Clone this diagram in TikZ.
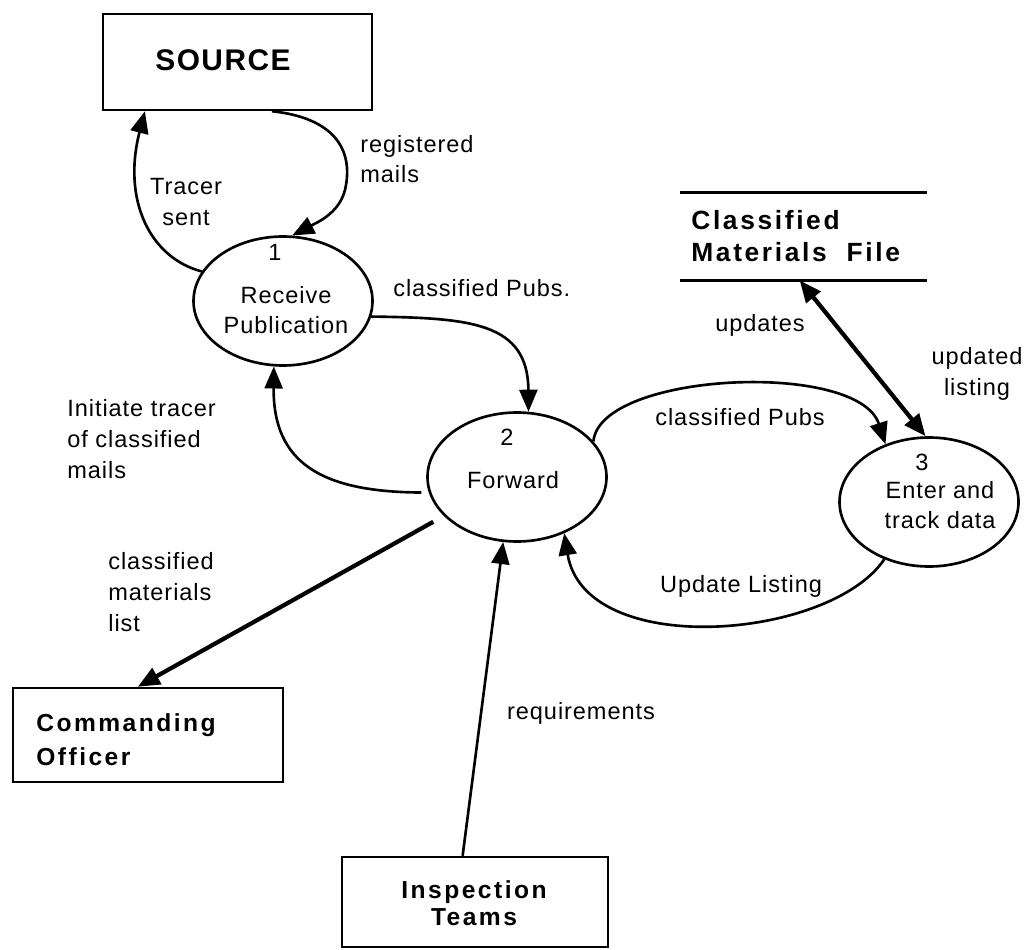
\documentclass[tikz,border=0pt]{standalone}
\usepackage{fontspec}
\setmainfont{Liberation Sans}
\newfontfamily\lblfont[LetterSpace=4]{Liberation Sans}
\newfontfamily\boxfont[LetterSpace=10]{Liberation Sans}
\newfontfamily\srcfont[LetterSpace=5]{Liberation Sans}
\usetikzlibrary{arrows.meta,shapes.geometric}

\tikzset{
    flow/.style={line width=1.5pt},
    heavy/.style={line width=2.4pt},
    proc/.style={ellipse, draw, line width=1.5pt, minimum width=35.8mm, minimum height=25.8mm, inner sep=0pt},
    ext/.style={draw, line width=1.4pt, inner sep=0pt},
    lbl/.style={font=\lblfont\fontsize{13.4}{17.5}\selectfont, inner sep=0pt},
    boxtxt/.style={font=\boxfont\bfseries\fontsize{14}{19}\selectfont, inner sep=0pt},
}

\begin{document}
\begin{tikzpicture}[x=0.2mm, y=-0.2mm, >={Triangle[length=4.4mm,width=3.6mm]}]
            %\draw[lightgray] (0, 0) grid[step=50] (1025, 950);
            \useasboundingbox (0, 0) rectangle (1025, 950);

            \node[ext, minimum width=53.8mm, minimum height=19.2mm] (src) at (237.5, 62) {};
            \node[boxtxt, font=\srcfont\bfseries\fontsize{17}{19}\selectfont] (srct) at (223, 60) {SOURCE};
            \node[ext, minimum width=54mm, minimum height=18.8mm] (com) at (148, 735) {};
            \node[boxtxt, align=left, anchor=west, font=\boxfont\bfseries\fontsize{14}{19.3}\selectfont] (comt) at (36, 740) {Commanding\\Officer};
            \node[ext, minimum width=53.2mm, minimum height=18mm] (insp) at (475, 902) {};
            \node[boxtxt, align=center, font=\boxfont\bfseries\fontsize{14}{15.3}\selectfont] (inspt) at (474, 903) {Inspection\\Teams};

            \node[minimum width=49.4mm, minimum height=17.4mm, inner sep=0pt] (cmf) at (803.5, 236.5) {};
            \draw[flow] (cmf.north west) -- (cmf.north east);
            \draw[flow] (cmf.south west) -- (cmf.south east);
            \node[boxtxt, align=left, anchor=west, font=\boxfont\bfseries\fontsize{15}{18.1}\selectfont] (cmft) at (691, 236) {Classified\\Materials\hspace{4mm}File};

            \node[proc] (p1) at (283, 301) {};
            \node[lbl] (n1) at (275, 252) {1};
            \node[lbl, align=center] (t1) at (286, 310) {Receive\\Publication};
            \node[proc] (p2) at (517, 477) {};
            \node[lbl] (n2) at (507, 437) {2};
            \node[lbl] (t2) at (513, 480) {Forward};
            \node[proc] (p3) at (929, 502) {};
            \node[lbl] (n3) at (922, 462) {3};
            \node[lbl, align=center] (t3) at (940, 505) {Enter and\\track data};

            \draw[flow, ->] (src.-55) .. controls (335, 118) and (352, 150) .. (346, 185) .. controls (342, 212) and (318, 222) .. (p1.82);
            \draw[flow, ->] (p1.160) .. controls (150, 258) and (122, 200) .. (src.-152);
            \draw[flow, ->] (p1.-10) .. controls (470, 318) and (528, 322) .. (p2.80);
            \draw[flow, ->, shorten <=1.5mm] (p2.190) .. controls (320, 492) and (273, 462) .. (p1.-98);
            \draw[heavy, ->, shorten <=2.4mm] (p2.208) -- (com.102);
            \draw[flow, ->] (insp.105) -- (p2.-102);
            \draw[flow, ->] (p3.232) .. controls (830, 640) and (585, 660) .. (p2.-50);
            \draw[flow, ->] (p2.25) .. controls (600, 372) and (858, 360) .. (p3.127);
            \draw[heavy, <->] (cmf.-95) -- (p3.93);

            \node[lbl, align=left, anchor=west] (lrm) at (360, 159) {registered\\mails};
            \node[lbl, align=center] (lts) at (186, 202) {Tracer\\sent};
            \node[lbl, anchor=west] (lcp1) at (393, 288) {classified Pubs.};
            \node[lbl, align=left, anchor=west] (lit) at (67, 439) {Initiate\hspace{1.5mm}tracer\\of classified\\mails};
            \node[lbl, align=left, anchor=west] (lcm) at (108, 592) {classified\\materials\\list};
            \node[lbl] (lreq) at (581, 713) {requirements};
            \node[lbl] (lul) at (741, 586) {Update Listing};
            \node[lbl] (lcp2) at (740, 417) {classified Pubs};
            \node[lbl] (lup) at (760, 325) {updates};
            \node[lbl, align=center] (lul2) at (977, 374) {updated\\listing};
        \end{tikzpicture}
\end{document}
